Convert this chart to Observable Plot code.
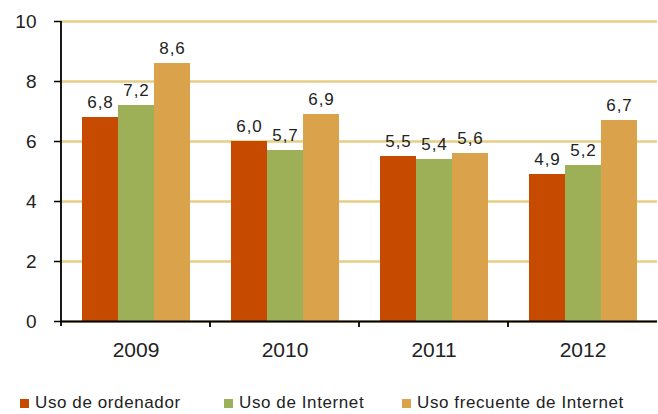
<!DOCTYPE html>
<html><head><meta charset="utf-8">
<script src="https://cdn.jsdelivr.net/npm/d3@7"></script>
<script src="https://cdn.jsdelivr.net/npm/@observablehq/plot@0.6"></script>
<style>
html,body{margin:0;padding:0;background:#fff;overflow:hidden;}
#legend{height:22px;display:flex;align-items:center;font-family:"Liberation Sans",Arial,sans-serif;font-size:17px;letter-spacing:0.6px;color:#222;padding-left:20px;}
.item{display:flex;align-items:center;}
.item:nth-child(1){width:204px;}
.item:nth-child(2){width:178px;}
.sw{width:9px;height:9px;margin-right:6px;flex:none;}
g[aria-label="text"] text{letter-spacing:1px;}
</style></head><body>
<div id="chart"></div>
<div id="legend"></div>
<script>
const years = ["2009","2010","2011","2012"];
const series = ["Uso de ordenador","Uso de Internet","Uso frecuente de Internet"];
const usoOrdenador = [6.8,6.0,5.5,4.9];
const usoInternet = [7.2,5.7,5.4,5.2];
const usoFrecuente = [8.6,6.9,5.6,6.7];
const yTicks = [0,2,4,6,8,10];
const colors = ["#C64A00","#9DB058","#DBA24C"];

const values = [usoOrdenador, usoInternet, usoFrecuente];
const data = years.flatMap((year,i)=> series.map((s,j)=>({year, series:s, value: values[j][i]})));
const fmt = v => v.toFixed(1).replace(".", ",");

const chart = Plot.plot({
  width:658, height:392, marginLeft:60, marginRight:0, marginTop:21, marginBottom:71,
  style:{fontFamily:"Liberation Sans, Arial, sans-serif", background:"#fff", color:"#222"},
  fx:{domain:years, padding:0, label:null},
  x:{domain:series, paddingInner:0, paddingOuter:0.53, axis:null},
  y:{domain:[0,10], label:null},
  color:{domain:series, range:colors},
  marks:[
    Plot.gridY(yTicks,{stroke:"#E5CE86", strokeWidth:2.5, strokeOpacity:1}),
    Plot.barY(data,{fx:"year", x:"series", y:"value", fill:"series"}),
    Plot.text(data,{fx:"year", x:"series", y:"value", text:d=>fmt(d.value), lineAnchor:"bottom", dy:-10, fontSize:17, fill:"#222"}),
    Plot.ruleY([0],{stroke:"#000", strokeWidth:1.8}),
    Plot.axisY({ticks:yTicks, tickSize:7, tickPadding:18, fontSize:19, stroke:"#000", strokeWidth:1.5}),
    Plot.axisFx({anchor:"bottom", tickSize:0, tickPadding:21, fontSize:21, label:null})
  ]
});

const fxs = chart.scale("fx");
const ys = chart.scale("y");
const g = d3.select(chart).append("g").attr("stroke","#000");
const y0 = ys.apply(0), y10 = ys.apply(10);
g.append("line").attr("x1",fxs.apply(years[0])).attr("x2",fxs.apply(years[0]))
  .attr("y1",y10).attr("y2",y0+5).attr("stroke-width",1.8);
years.slice(1).forEach(yr=>{
  const x = fxs.apply(yr);
  g.append("line").attr("x1",x).attr("x2",x).attr("y1",y0).attr("y2",y0+6).attr("stroke-width",1.8);
});
document.getElementById("chart").append(chart);

const legend = d3.select("#legend");
series.forEach((s,i)=>{
  const it = legend.append("div").attr("class","item");
  it.append("div").attr("class","sw").style("background",colors[i]);
  it.append("span").text(s);
});
</script>
</body></html>
